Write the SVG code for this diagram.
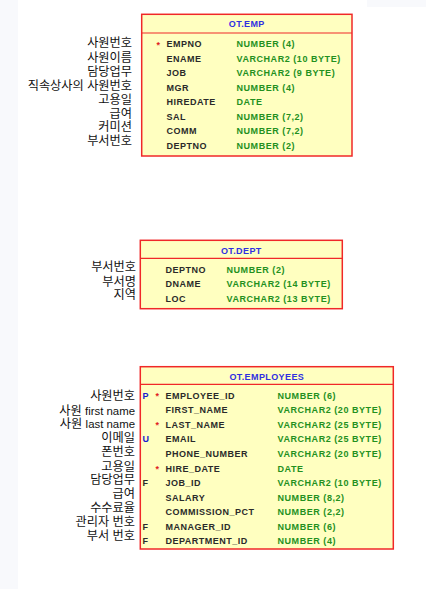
<svg xmlns="http://www.w3.org/2000/svg" width="426" height="589" viewBox="0 0 426 589">
<style>
.bg{fill:#ffffff}
.strip{fill:#f8f9fc}
.box{fill:#ffffc0;stroke:#f02828;stroke-width:1.5}
.div{stroke:#f02828;stroke-width:1.2}
.title{font-family:"Liberation Sans",Arial,sans-serif;font-size:9px;font-weight:bold;fill:#3030e0;text-anchor:middle;letter-spacing:0.4px}
.col{font-family:"Liberation Sans",Arial,sans-serif;font-size:9px;font-weight:bold;fill:#2a2a2a;letter-spacing:0.5px}
.typ{font-family:"Liberation Sans",Arial,sans-serif;font-size:9px;font-weight:bold;fill:#23901e;letter-spacing:0.55px}
.star{font-family:"Liberation Sans",Arial,sans-serif;font-size:9px;font-weight:bold;fill:#e02020}
.kp{font-family:"Liberation Sans",Arial,sans-serif;font-size:9px;font-weight:bold;fill:#1a1ad0}
.kf{font-family:"Liberation Sans",Arial,sans-serif;font-size:9px;font-weight:bold;fill:#2a2a2a}
.lab{font-family:"Liberation Sans","Noto Sans CJK KR",sans-serif;font-size:12.2px;fill:#111111;text-anchor:end}
.lat{font-size:11.4px}
</style>
<rect class="bg" x="0" y="0" width="426" height="589"/>
<rect class="strip" x="0" y="0" width="18" height="589"/>
<rect class="strip" x="367" y="0" width="59" height="7"/>
<g id="connectors"/>

<g id="emp-labels">
<text class="lab" x="132" y="47.2">사원번호</text>
<text class="lab" x="132" y="61.5">사원이름</text>
<text class="lab" x="132" y="75.5">담당업무</text>
<text class="lab" x="132" y="89.5">직속상사의 사원번호</text>
<text class="lab" x="132" y="103.7">고용일</text>
<text class="lab" x="132" y="117.7">급여</text>
<text class="lab" x="132" y="130.8">커미션</text>
<text class="lab" x="132" y="144.6">부서번호</text>
</g>

<g id="ot-emp">
<rect class="box" x="141.7" y="14.3" width="210.3" height="141.7"/>
<line class="div" x1="141.7" y1="33" x2="352" y2="33"/>
<text class="title" x="246.8" y="27.3">OT.EMP</text>
<text class="star" x="156.5" y="47.5">*</text>
<text class="col" x="166.5" y="47">EMPNO</text><text class="typ" x="236.5" y="47">NUMBER (4)</text>
<text class="col" x="166.5" y="61.6">ENAME</text><text class="typ" x="236.5" y="61.6">VARCHAR2 (10 BYTE)</text>
<text class="col" x="166.5" y="76.1">JOB</text><text class="typ" x="236.5" y="76.1">VARCHAR2 (9 BYTE)</text>
<text class="col" x="166.5" y="90.7">MGR</text><text class="typ" x="236.5" y="90.7">NUMBER (4)</text>
<text class="col" x="166.5" y="105.3">HIREDATE</text><text class="typ" x="236.5" y="105.3">DATE</text>
<text class="col" x="166.5" y="119.9">SAL</text><text class="typ" x="236.5" y="119.9">NUMBER (7,2)</text>
<text class="col" x="166.5" y="134.4">COMM</text><text class="typ" x="236.5" y="134.4">NUMBER (7,2)</text>
<text class="col" x="166.5" y="149">DEPTNO</text><text class="typ" x="236.5" y="149">NUMBER (2)</text>
</g>

<g id="dept-labels">
<text class="lab" x="136" y="271">부서번호</text>
<text class="lab" x="136" y="286">부서명</text>
<text class="lab" x="136" y="299.4">지역</text>
</g>

<g id="ot-dept">
<rect class="box" x="140.3" y="240.3" width="202" height="68.4"/>
<line class="div" x1="140.3" y1="258.3" x2="342.3" y2="258.3"/>
<text class="title" x="241.3" y="254">OT.DEPT</text>
<text class="col" x="165.5" y="272.6">DEPTNO</text><text class="typ" x="226.5" y="272.6">NUMBER (2)</text>
<text class="col" x="165.5" y="287.1">DNAME</text><text class="typ" x="226.5" y="287.1">VARCHAR2 (14 BYTE)</text>
<text class="col" x="165.5" y="301.7">LOC</text><text class="typ" x="226.5" y="301.7">VARCHAR2 (13 BYTE)</text>
</g>

<g id="employees-labels">
<text class="lab" x="135" y="400">사원번호</text>
<text class="lab" x="135" y="414.5">사원 <tspan class="lat">first name</tspan></text>
<text class="lab" x="135" y="428.3">사원 <tspan class="lat">last name</tspan></text>
<text class="lab" x="135" y="441.7">이메일</text>
<text class="lab" x="135" y="456.3">폰번호</text>
<text class="lab" x="135" y="471">고용일</text>
<text class="lab" x="135" y="484">담당업무</text>
<text class="lab" x="135" y="498.3">급여</text>
<text class="lab" x="135" y="512.3">수수료율</text>
<text class="lab" x="135" y="526.3">관리자 번호</text>
<text class="lab" x="135" y="540">부서 번호</text>
</g>

<g id="ot-employees">
<rect class="box" x="140.3" y="366.7" width="253" height="182.3"/>
<line class="div" x1="140.3" y1="384.3" x2="393.3" y2="384.3"/>
<text class="title" x="266.8" y="380">OT.EMPLOYEES</text>
<text class="kp" x="142.5" y="398.6">P</text>
<text class="star" x="155.5" y="399.1">*</text>
<text class="col" x="165.5" y="398.6">EMPLOYEE_ID</text><text class="typ" x="277.5" y="398.6">NUMBER (6)</text>
<text class="col" x="165.5" y="413.2">FIRST_NAME</text><text class="typ" x="277.5" y="413.2">VARCHAR2 (20 BYTE)</text>
<text class="star" x="155.5" y="428.3">*</text>
<text class="col" x="165.5" y="427.8">LAST_NAME</text><text class="typ" x="277.5" y="427.8">VARCHAR2 (25 BYTE)</text>
<text class="kp" x="142.5" y="442.3">U</text>
<text class="col" x="165.5" y="442.3">EMAIL</text><text class="typ" x="277.5" y="442.3">VARCHAR2 (25 BYTE)</text>
<text class="col" x="165.5" y="456.9">PHONE_NUMBER</text><text class="typ" x="277.5" y="456.9">VARCHAR2 (20 BYTE)</text>
<text class="star" x="155.5" y="472">*</text>
<text class="col" x="165.5" y="471.5">HIRE_DATE</text><text class="typ" x="277.5" y="471.5">DATE</text>
<text class="kf" x="142.5" y="486">F</text>
<text class="col" x="165.5" y="486">JOB_ID</text><text class="typ" x="277.5" y="486">VARCHAR2 (10 BYTE)</text>
<text class="col" x="165.5" y="500.6">SALARY</text><text class="typ" x="277.5" y="500.6">NUMBER (8,2)</text>
<text class="col" x="165.5" y="515.2">COMMISSION_PCT</text><text class="typ" x="277.5" y="515.2">NUMBER (2,2)</text>
<text class="kf" x="142.5" y="529.7">F</text>
<text class="col" x="165.5" y="529.7">MANAGER_ID</text><text class="typ" x="277.5" y="529.7">NUMBER (6)</text>
<text class="kf" x="142.5" y="544.3">F</text>
<text class="col" x="165.5" y="544.3">DEPARTMENT_ID</text><text class="typ" x="277.5" y="544.3">NUMBER (4)</text>
</g>
</svg>
